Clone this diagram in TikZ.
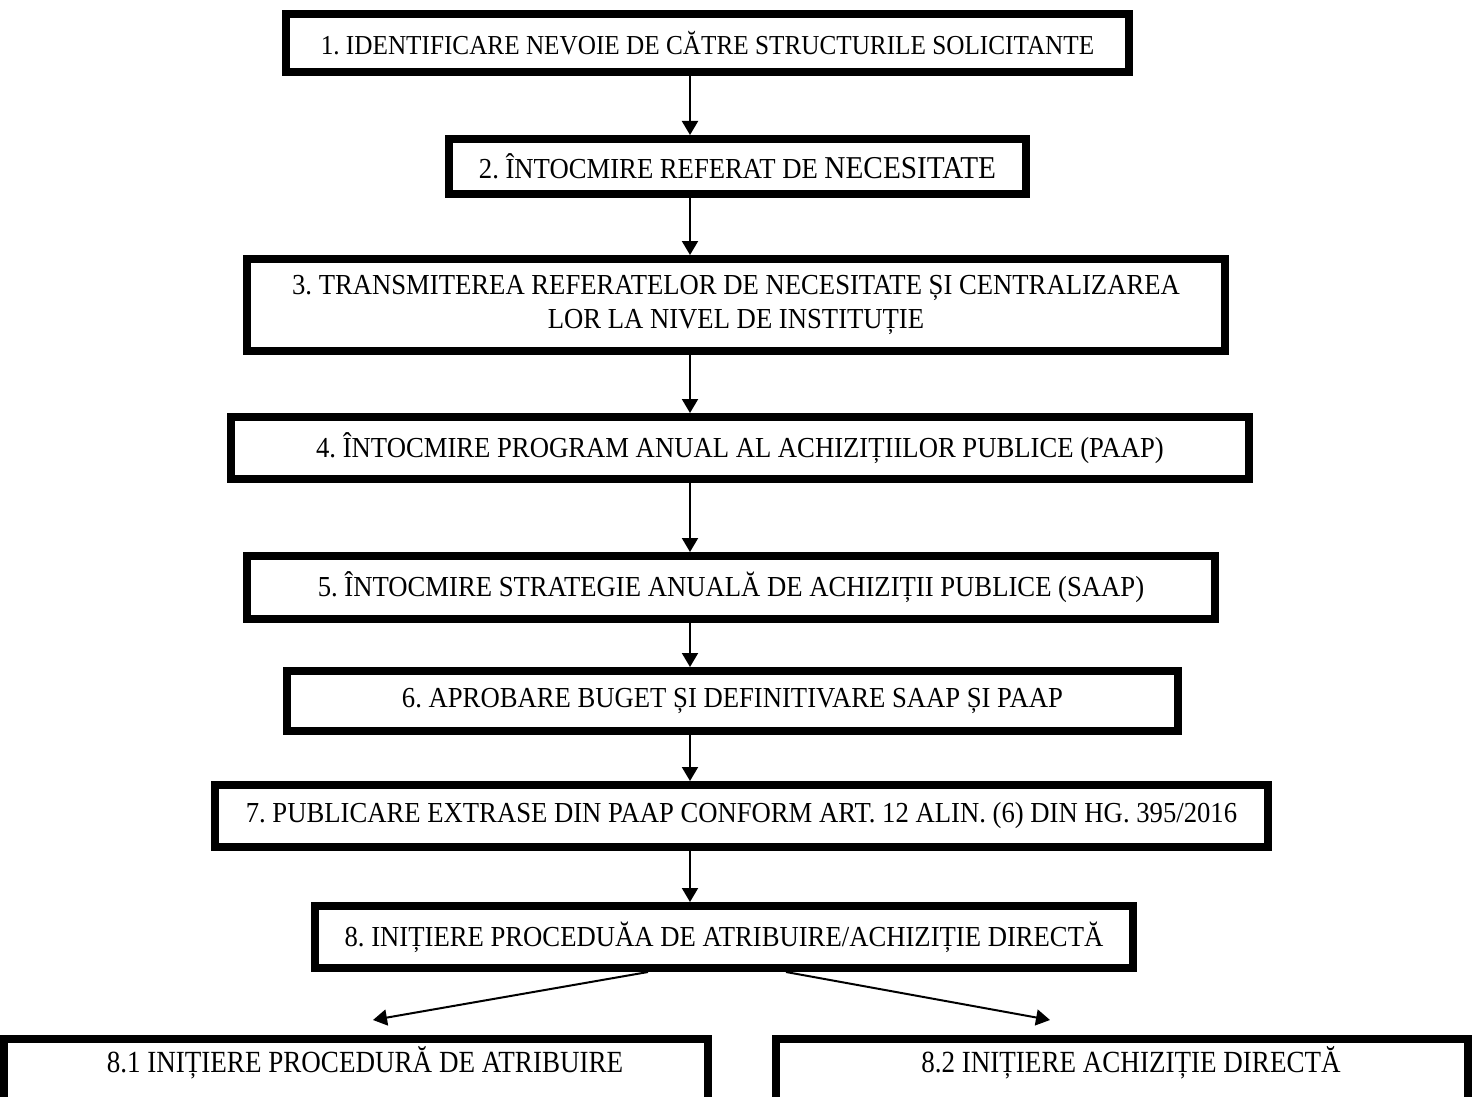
\documentclass[tikz,border=0pt]{standalone}
\usepackage{fontspec}
\setmainfont[FakeStretch=0.92]{Liberation Serif}
\newfontfamily\narrowserif[FakeStretch=0.88]{Liberation Serif}
\usetikzlibrary{arrows.meta}
\frenchspacing
% one unit of the picture
\newcommand{\px}{0.2mm}
\tikzset{
  stepbox/.style={draw, line width=8*\px, inner sep=0pt, align=center,
    font=\fontsize{16.5}{18.8}\selectfont},
  branchbox/.style={stepbox, anchor=north, text height=6.6mm, text depth=7.6mm,
    font=\narrowserif\fontsize{17.5}{20}\selectfont},
  flow/.style={-{Triangle[length=2.8mm,width=3.2mm]}, line width=0.4mm},
}
\begin{document}
\begin{tikzpicture}[x=0.2mm,y=-0.2mm]
\useasboundingbox (0,0) rectangle (1472,1097);
  % Define nodes
  \node[stepbox, minimum width=843*\px, minimum height=58*\px,
    font=\fontsize{15.6}{18}\selectfont] (s1) at (707.5,43)
    {1. IDENTIFICARE NEVOIE DE CĂTRE STRUCTURILE SOLICITANTE};
  \node[stepbox, minimum width=577*\px, minimum height=55*\px] (s2) at (737.5,166.5)
    {2. ÎNTOCMIRE REFERAT DE {\fontsize{18.1}{19}\selectfont NECESITATE}};
  \node[stepbox, minimum width=978*\px, minimum height=92*\px] (s3) at (736,305)
    {3. TRANSMITEREA REFERATELOR DE NECESITATE ȘI CENTRALIZAREA\\LOR LA NIVEL DE INSTITUȚIE};
  \node[stepbox, minimum width=1018*\px, minimum height=62*\px] (s4) at (740,448)
    {4. ÎNTOCMIRE PROGRAM ANUAL AL ACHIZIȚIILOR PUBLICE (PAAP)};
  \node[stepbox, minimum width=968*\px, minimum height=63*\px] (s5) at (731,587.5)
    {5. ÎNTOCMIRE STRATEGIE ANUALĂ DE ACHIZIȚII PUBLICE (SAAP)};
  \node[stepbox, minimum width=891*\px, minimum height=60*\px] (s6) at (732.5,701)
    {6. APROBARE BUGET ȘI DEFINITIVARE SAAP ȘI PAAP};
  \node[stepbox, minimum width=1053*\px, minimum height=62*\px] (s7) at (741.5,816)
    {7. PUBLICARE EXTRASE DIN PAAP CONFORM ART. 12 ALIN. (6) DIN HG. 395/2016};
  \node[stepbox, minimum width=818*\px, minimum height=62*\px] (s8) at (724,937)
    {8. INIȚIERE PROCEDUĂA DE ATRIBUIRE/ACHIZIȚIE DIRECTĂ};
  %two branches, cut off at the bottom
  \node[branchbox, minimum width=704*\px] (s81) at (356,1035)
    {\hspace*{3.6mm}8.1 INIȚIERE PROCEDURĂ DE ATRIBUIRE};
  \node[branchbox, minimum width=692*\px] (s82) at (1122,1035)
    {\hspace*{3.6mm}8.2 INIȚIERE ACHIZIȚIE DIRECTĂ};
  % Draw arrows
  \coordinate (axis) at (690,0);
  \draw[flow] (s1.south -| axis) -- (s2.north -| axis);
  \draw[flow] (s2.south -| axis) -- (s3.north -| axis);
  \draw[flow] (s3.south -| axis) -- (s4.north -| axis);
  \draw[flow] (s4.south -| axis) -- (s5.north -| axis);
  \draw[flow] (s5.south -| axis) -- (s6.north -| axis);
  \draw[flow] (s6.south -| axis) -- (s7.north -| axis);
  \draw[flow] (s7.south -| axis) -- (s8.north -| axis);
  \coordinate (forkL) at (648,0);
  \coordinate (forkR) at (786,0);
  \coordinate (tipL) at (373,1020);
  \coordinate (tipR) at (1050,1020);
  \draw[flow] (s8.south -| forkL) -- (tipL);
  \draw[flow] (s8.south -| forkR) -- (tipR);
\end{tikzpicture}
\end{document}
